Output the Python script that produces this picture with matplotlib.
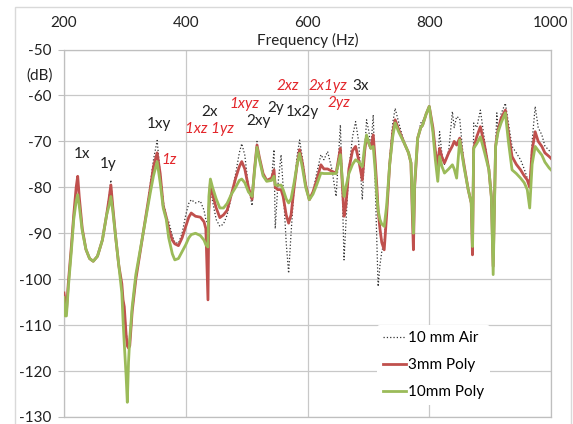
# Se importa numpy y pyplot
import numpy as np
import matplotlib.pyplot as plt
from matplotlib.patches import Rectangle

# Frecuencia (Hz) de los puntos
frecuencia = [200, 202, 204, 207, 212, 216, 220, 222.5, 225, 230, 236, 242, 248, 255,
              263, 270, 274, 277, 280, 285, 290, 295, 297, 299, 302, 304, 306, 308,
              312, 318, 324, 330, 336, 342, 347, 353, 358, 363, 368, 372, 378, 382,
              388, 394, 400, 405, 409, 416, 424, 430, 433, 436.5, 438, 440.5, 444,
              450, 456, 462, 468, 475, 482, 488, 492, 497, 503, 509, 513, 517, 521,
              527, 533, 541, 545, 547, 551, 556.6, 560, 565, 569, 573, 578, 583, 587,
              592, 597, 603, 609, 615, 622, 627, 633, 640, 647, 654, 657, 660, 663,
              668, 674, 679, 684, 690, 694, 697, 701, 704, 708, 711, 714, 716, 719,
              722, 726, 730, 735, 740, 744, 750, 759, 766, 770, 772, 774, 776, 781,
              786, 789, 795, 800, 806, 810, 814, 817, 821, 825, 832, 838, 841, 845,
              850, 857, 864, 869, 871, 873, 878, 884, 891, 898, 902, 905, 909, 911,
              913, 918, 925, 930, 936, 943, 950, 956, 961, 965, 969, 974, 979, 985,
              990, 997, 1000]

# Nivel (dB) para 10 mm de aire
aire_10mm = [-103, -105, -107, -101, -93, -86, -80, -77.5, -82, -89, -93.5, -95.5, -96.1,
             -95, -91.5, -86, -82, -78.4, -84, -91, -97, -101, -104, -106.5, -111, -114,
             -115, -113.5, -107, -100, -95, -90, -85, -79, -74, -69.8, -77, -83, -86.3,
             -87.5, -90.5, -92, -92.2, -90, -86, -83.5, -82.7, -83.4, -83, -85, -87, -88,
             -82, -80, -83, -87, -88.5, -88, -86, -82, -77, -72.5, -70.5, -73, -80, -84,
             -76, -70, -73.5, -77, -78.5, -78, -71.8, -89, -80, -72.9, -80, -92, -98.7,
             -90, -80, -73, -69.7, -74, -79, -82.7, -81, -77, -72.9, -74, -72.2, -76,
             -82, -66.4, -80, -95.8, -88, -76, -69, -65.7, -70, -82.7, -72, -65.3, -68,
             -71.5, -64.2, -78, -92, -101.6, -97, -94, -92, -84, -74, -66, -62.8, -66,
             -70.4, -72.5, -74.7, -85, -93, -80, -69.3, -66, -65.7, -64, -62.4, -67, -72,
             -75, -67.9, -73, -75, -72, -63.5, -67, -64.6, -65, -75, -80.5, -83.4, -94,
             -66, -67, -63.2, -70, -76.2, -82, -98, -71.1, -63.8, -68.6, -64, -61.7, -66,
             -71.1, -72.5, -74, -76, -78, -80, -70, -62.4, -67, -68.6, -71, -72, -72.5]

# Nivel (dB) para 3 mm de poliestireno
poly_3mm = [-103, -105, -107, -101, -93, -86, -80, -77.6, -82, -89, -93.5, -95.5, -96.1,
            -95, -91.5, -86, -82.5, -79.5, -84, -91, -97, -101, -104.5, -106, -112, -114.5,
            -115, -114.5, -107, -100, -95, -90, -85, -80, -75.5, -72.5, -77, -84, -86.5,
            -89, -91.5, -92.3, -92.7, -91, -88.5, -86.5, -85.6, -86.3, -86.5, -87.5, -89,
            -104.5, -85, -79, -81.5, -84.5, -86.6, -86, -85, -81.5, -78, -75.5, -74.4,
            -76, -80, -82.6, -76, -70.8, -73.5, -77, -78.5, -78, -76.2, -80, -80.5, -80.5,
            -82, -86, -87.8, -86, -80, -75, -71.8, -75, -79.5, -82.7, -81, -78.5, -75.1,
            -76, -76, -76.5, -76.9, -71.5, -79, -86.3, -84, -76, -72, -71.1, -74, -78.4,
            -72, -69, -70.5, -71.5, -68.6, -74, -80, -85, -89, -92, -93.6, -86, -75, -68,
            -65.3, -67.5, -70.4, -72.5, -74.7, -85, -93.6, -80, -69.3, -67, -66.5, -64,
            -62.4, -67, -72, -75.5, -71.5, -73.5, -74.7, -72.5, -71, -70, -70.8, -69.3,
            -75, -80.5, -83.4, -94.7, -71.5, -69, -66.8, -71, -76.2, -82, -97.2, -71.1,
            -69, -67.5, -65, -63.2, -68, -73.3, -75, -76.2, -77.5, -78.4, -80, -72, -67.9,
            -70, -71.1, -72.5, -73.3, -73.7]

# Nivel (dB) para 10 mm de poliestireno
poly_10mm = [-104, -108, -108, -102, -94, -87, -83, -81.6, -84, -89.5, -93.5, -95.5, -96.1,
             -95, -91.5, -86, -84, -82, -85, -91, -97, -103, -109, -114, -121, -126.8,
             -118, -113, -106, -99, -94.5, -90, -85.5, -81, -77.5, -74.4, -79, -84.5, -87,
             -91, -94.5, -95.8, -95.5, -94, -92.5, -91, -90.3, -90, -90.5, -91.5, -92.5,
             -93, -82, -78.2, -80, -82.5, -84.5, -84.5, -83.5, -81.5, -80, -78.5, -78.2,
             -79, -81, -82, -76.5, -71.3, -74, -77.5, -78.7, -78.5, -77.6, -79.5, -79.6,
             -79.5, -80.5, -82.5, -83.4, -82.5, -79, -75, -72.6, -76, -80, -82.7, -81.5,
             -79.5, -76.9, -77, -77, -77, -77, -72.9, -78, -82, -80, -77, -75, -74, -74.5,
             -75.5, -71, -68.6, -70.5, -71.5, -71.1, -76, -82, -85, -87, -88, -88.5, -84,
             -75, -69, -66, -68, -70.4, -72.5, -74.7, -83, -90, -79, -69.3, -67, -66.5,
             -64, -62.4, -68, -74, -78.7, -73.3, -75.5, -76.9, -76, -75.1, -76, -78, -69.7,
             -75.5, -80.5, -83.4, -92.9, -71.5, -70.5, -69, -72.5, -76.2, -82, -99, -71.1,
             -69.5, -68, -66, -63.8, -70, -76.2, -77, -78, -79, -80.5, -84.5, -75, -71.1,
             -72, -73, -74.5, -75.8, -76.2]

# Etiquetas de los modos (texto, frecuencia, dB, es_rojo)
modos = ['1x', '1y', '1xy', '1z', '2x', '1xz 1yz', '1xyz', '2xy', '2y', '1x2y',
         '2xz', '2x1yz', '3x', '2yz']
modos_f = [229, 272, 356, 372, 439, 439, 497, 520, 547, 592, 567, 633, 688, 652]
modos_db = [-72.7, -74.9, -66.2, -74.0, -63.6, -67.3, -61.8, -65.5, -62.7, -63.6,
            -57.9, -57.9, -57.9, -61.6]
modos_rojo = [False, False, False, True, False, True, True, False, False, False,
              True, True, False, True]

plt.rcParams['font.family'] = ['Lato', 'DejaVu Sans']
plt.rcParams['axes.unicode_minus'] = False

fig = plt.figure(figsize=(5.73, 4.24), dpi=100)
ax = fig.add_axes([64 / 573, 1 - 417 / 424, 487 / 573, 367.5 / 424])

# Marco exterior del grafico (el borde inferior queda fuera de la imagen)
fig.patches.append(Rectangle((15 / 573, -0.02), 556 / 573, 1.02 - 7 / 424,
                             transform=fig.transFigure, fill=False,
                             edgecolor='#D9D9D9', linewidth=1))

# Se dibujan las tres curvas
ax.plot(frecuencia, aire_10mm, color='#333333', linestyle=':', linewidth=0.9,
        label='10 mm Air', zorder=3)
ax.plot(frecuencia, poly_3mm, color='#C0504D', linewidth=2.0,
        label='3mm Poly', zorder=4)
ax.plot(frecuencia, poly_10mm, color='#9BBB59', linewidth=2.0,
        label='10mm Poly', zorder=5)

# Ejes y rejilla
ax.set_xlim(200, 1000)
ax.set_ylim(-130, -50)
ax.set_xticks(np.arange(200, 1001, 200))
ax.set_yticks(np.arange(-130, -49, 10))
ax.xaxis.tick_top()
ax.tick_params(axis='x', length=0, pad=14, labelsize=11, colors='#222222')
ax.tick_params(axis='y', length=4, pad=5, labelsize=11, color='#BFBFBF',
               labelcolor='#222222')
ax.grid(True, color='#C8C8C8', linewidth=0.9)
for lado in ax.spines.values():
    lado.set_color('#BFBFBF')
    lado.set_linewidth(0.9)

ax.text(0.5, 1.025, 'Frequency (Hz)', transform=ax.transAxes, ha='center',
        va='center', fontsize=11, color='#222222')
fig.text(40 / 573, 1 - 76 / 424, '(dB)', ha='center', va='center', fontsize=11,
         color='#222222')

# Etiquetas de los modos
for texto, f, db, rojo in zip(modos, modos_f, modos_db, modos_rojo):
    if rojo:
        ax.text(f, db, texto, color='#E3262B', style='italic', ha='center',
                va='center', fontsize=11, zorder=6)
    else:
        ax.text(f, db, texto, color='#222222', ha='center', va='center',
                fontsize=11, zorder=6)

# Leyenda
leg = ax.legend(loc='lower left', bbox_to_anchor=(305 / 487, 4 / 367.5),
                frameon=True, fontsize=11, handlelength=1.5, handletextpad=0.15,
                labelspacing=0.85, borderpad=0.4)
leg.get_frame().set_edgecolor('none')
leg.get_frame().set_facecolor('white')
leg.get_frame().set_alpha(1)
leg.set_zorder(7)

plt.savefig('out.png', dpi=100)
